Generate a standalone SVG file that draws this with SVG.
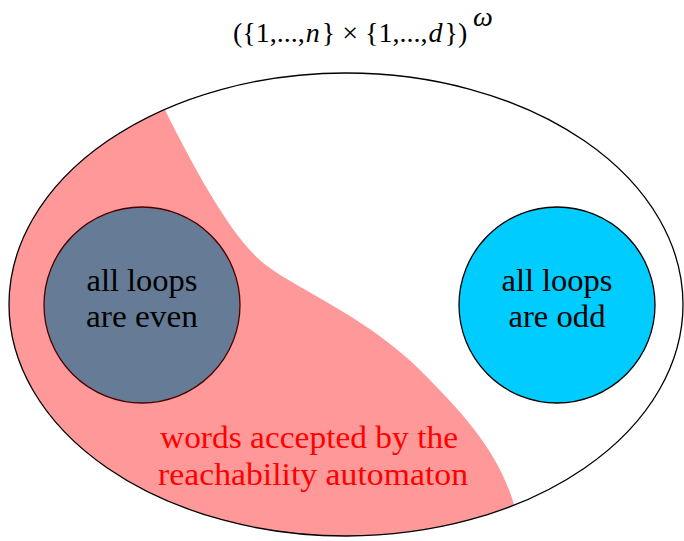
<svg xmlns="http://www.w3.org/2000/svg" width="684" height="541" viewBox="0 0 684 541">
<style>
.lbl{font-family:"Liberation Serif","DejaVu Serif",serif;font-size:32px;fill:#000;text-anchor:middle}
.red{font-family:"Liberation Serif","DejaVu Serif",serif;font-size:32px;fill:#ff0000}
.ttl{font-family:"Liberation Serif","DejaVu Serif",serif;font-size:28px;fill:#000}
.it{font-style:italic}
</style>
<defs>
<clipPath id="ec"><ellipse cx="346" cy="304.5" rx="337" ry="231.5"/></clipPath>
</defs>
<rect width="684" height="541" fill="#fff"/>
<g id="title">
<text class="ttl" x="233" y="42">({1,...,<tspan class="it" dx="1">n</tspan><tspan dx="2">} × {1,...,</tspan><tspan class="it" dx="1">d</tspan><tspan dx="2">})</tspan></text>
<text class="ttl" x="473" y="26" font-size="15" font-style="italic">ω</text>
</g>
<g id="universe">
<ellipse cx="346" cy="304.5" rx="337" ry="231.5" fill="#fff"/>
<path clip-path="url(#ec)" fill="#ff9999" d="M150 70 L165 110 C195 170 235 245 270 268 C300 290 370 320 420 370 C470 420 505 460 518 520 L520 560 L-20 560 L-20 70 Z"/>
<ellipse cx="346" cy="304.5" rx="337" ry="231.5" fill="none" stroke="#000" stroke-width="1.3"/>
</g>
<g id="even">
<circle cx="142" cy="305" r="98" fill="#667b96" stroke="#4a0000" stroke-width="1.3"/>
<text class="lbl" x="142" y="291" textLength="111" lengthAdjust="spacingAndGlyphs">all loops</text>
<text class="lbl" x="142" y="327" textLength="112" lengthAdjust="spacingAndGlyphs">are even</text>
</g>
<g id="odd">
<circle cx="557" cy="305" r="98" fill="#00ccff" stroke="#000" stroke-width="1.3"/>
<text class="lbl" x="557" y="291" textLength="111" lengthAdjust="spacingAndGlyphs">all loops</text>
<text class="lbl" x="557" y="327" textLength="97" lengthAdjust="spacingAndGlyphs">are odd</text>
</g>
<g id="accepted">
<text class="red" x="160" y="448" textLength="298" lengthAdjust="spacingAndGlyphs">words accepted by the</text>
<text class="red" x="158" y="485" textLength="310" lengthAdjust="spacingAndGlyphs">reachability automaton</text>
</g>
</svg>
